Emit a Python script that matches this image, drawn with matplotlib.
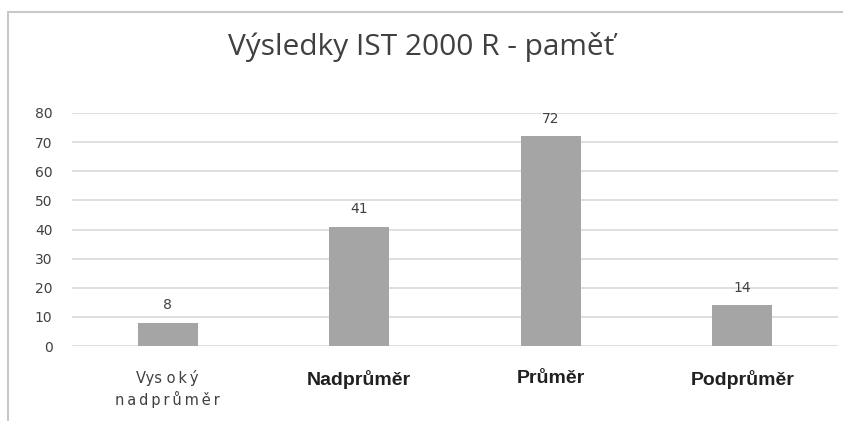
import matplotlib.pyplot as plt
from matplotlib.patches import Rectangle

# Data
ts = '\u2009'
categories = ['Vys o' + ts + 'k' + ts + 'ý\n' + ts.join('nadprůměr'),
              'Nadprůměr', 'Průměr', 'Podprůměr']
values = [8, 41, 72, 14]
yticks = [0, 10, 20, 30, 40, 50, 60, 70, 80]

fig = plt.figure(figsize=(8.43, 4.21), dpi=100)
ax = fig.add_axes([72 / 843, 75 / 421, 766 / 843, 233 / 421])

# Chart frame (partly cut off in the original)
fig.patches.append(Rectangle((8 / 843, -0.05), 1.0, 1.05 - 12 / 421,
                             transform=fig.transFigure, fill=False,
                             edgecolor='#C8C8C8', linewidth=1.5))

x = range(len(values))
bars = ax.bar(x, values, width=0.315, color='#A5A5A5', zorder=3)

for b, v in zip(bars, values):
    ax.text(b.get_x() + b.get_width() / 2, v + 6, str(v), ha='center', va='center',
            fontsize=10, color='#404040', fontfamily='DejaVu Sans')

ax.set_xlim(-0.5, 3.5)
ax.set_ylim(0, 80)
ax.set_yticks(yticks)
ax.set_yticklabels([str(t) for t in yticks], fontsize=10, color='#404040')
ax.yaxis.grid(True, color='#D9D9D9', linewidth=1.2, zorder=0)
ax.tick_params(axis='y', length=0, pad=14)
ax.tick_params(axis='x', length=0, pad=17)

ax.set_xticks(list(x))
ax.set_xticklabels(categories)
labels = ax.get_xticklabels()
labels[0].set_fontsize(10.5)
labels[0].set_color('#404040')
labels[0].set_linespacing(1.4)
for lbl in labels[1:]:
    lbl.set_fontfamily('Liberation Sans')
    lbl.set_fontweight('bold')
    lbl.set_fontsize(14)
    lbl.set_color('#202020')
    lbl.set_verticalalignment('top')

for s in ax.spines.values():
    s.set_visible(False)

fig.text(0.5, 1 - 47 / 421, 'Výsledky IST 2000 R - paměť', ha='center', va='center',
         fontsize=21.5, color='#404040', fontfamily='Open Sans')

plt.savefig('out.png', dpi=100)
